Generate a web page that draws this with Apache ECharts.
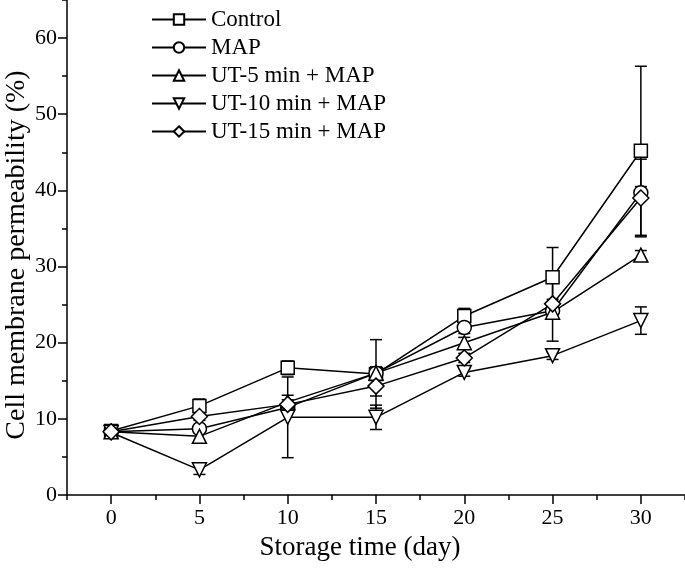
<!DOCTYPE html>
<html>
<head>
<meta charset="utf-8">
<script src="https://cdn.jsdelivr.net/npm/echarts@6/dist/echarts.min.js"></script>
<style>
  html, body { margin: 0; padding: 0; background: #fff; }
  #chart { width: 685px; height: 574px; }
</style>
</head>
<body>
<div id="chart"></div>
<script>
// storage days
var days = [0, 5, 10, 15, 20, 25, 30];

// means
var control = [8.4, 11.7, 16.7, 15.9, 23.5, 28.6, 45.2];
var map = [8.3, 8.7, 11.5, 16.0, 22.0, 24.2, 39.7];
var ut5 = [8.3, 7.7, 12.2, 16.0, 20.0, 24.0, 31.5];
var ut10 = [8.2, 3.3, 10.2, 10.2, 16.1, 18.3, 22.9];
var ut15 = [8.3, 10.3, 11.9, 14.3, 18.0, 25.1, 39.0];

// error (±) for each point
var controlErr = [0.3, 0.9, 0.9, 4.5, 1.0, 3.9, 11.1];
var mapErr = [0.3, 0.5, 0.6, 0.8, 0.8, 0.8, 0.8];
var ut5Err = [0.3, 0.9, 0.9, 0.8, 0.7, 3.8, 0.6];
var ut10Err = [0.3, 0.6, 5.3, 1.6, 0.5, 0.5, 1.8];
var ut15Err = [0.3, 0.5, 0.6, 1.3, 0.6, 0.6, 5.1];

// tick positions
var xMajor = [0, 5, 10, 15, 20, 25, 30];
var xMinor = [-2.5, 2.5, 7.5, 12.5, 17.5, 22.5, 27.5, 32.5];
var yMajor = [0, 10, 20, 30, 40, 50, 60];
var yMinor = [5, 15, 25, 35, 45, 55, 65];

var names = ['Control', 'MAP', 'UT-5 min + MAP', 'UT-10 min + MAP', 'UT-15 min + MAP'];
var symbols = ['rect', 'circle', 'triangle', 'path://M0,0 L10,0 L5,9 Z', 'diamond'];
var sizes = [13, 14, 14, 14, 16];

var font = 'Liberation Serif';

var chartDom = document.getElementById('chart');
var myChart = echarts.init(chartDom);

function renderErr(params, api) {
  var x = api.value(0);
  var lo = api.coord([x, api.value(1)]);
  var hi = api.coord([x, api.value(2)]);
  var w = 6;
  var st = { stroke: '#000', lineWidth: 1.5 };
  return {
    type: 'group',
    children: [
      { type: 'line', shape: { x1: lo[0], y1: lo[1], x2: hi[0], y2: hi[1] }, style: st },
      { type: 'line', shape: { x1: lo[0] - w, y1: lo[1], x2: lo[0] + w, y2: lo[1] }, style: st },
      { type: 'line', shape: { x1: hi[0] - w, y1: hi[1], x2: hi[0] + w, y2: hi[1] }, style: st }
    ]
  };
}

var means = [control, map, ut5, ut10, ut15];
var errs = [controlErr, mapErr, ut5Err, ut10Err, ut15Err];

var series = [];
means.forEach(function (m, i) {
  series.push({
    name: names[i] + ' err',
    type: 'custom',
    renderItem: renderErr,
    z: 1,
    data: days.map(function (d, j) { return [d, m[j] - errs[i][j], m[j] + errs[i][j]]; })
  });
});
means.forEach(function (m, i) {
  series.push({
    name: names[i],
    type: 'line',
    z: 3,
    symbol: symbols[i],
    symbolSize: sizes[i],
    showAllSymbol: true,
    lineStyle: { color: '#000', width: 1.5 },
    itemStyle: { color: '#fff', borderColor: '#000', borderWidth: 1.5 },
    data: days.map(function (d, j) { return [d, m[j]]; })
  });
});

var lineSt = { color: '#000', width: 1.5 };

var option = {
  animation: false,
  backgroundColor: '#fff',
  textStyle: { fontFamily: font, color: '#000' },
  grid: { left: 67, right: 0, top: 0, bottom: 79, containLabel: false, outerBoundsMode: 'none' },
  legend: {
    data: names,
    orient: 'vertical',
    left: 146,
    top: 3,
    itemWidth: 54,
    itemHeight: 13,
    itemGap: 5,
    textStyle: { fontFamily: font, fontSize: 23, color: '#000' }
  },
  xAxis: [{
    type: 'value',
    min: -2.5,
    max: 32.5,
    name: 'Storage time (day)',
    nameLocation: 'middle',
    nameGap: 39,
    nameMoveOverlap: false,
    nameTextStyle: { fontFamily: font, fontSize: 27, color: '#000', padding: [0, 32, 0, 0] },
    axisLine: { onZero: false, lineStyle: lineSt },
    axisTick: { length: 9, customValues: xMajor, lineStyle: lineSt },
    axisLabel: { fontFamily: font, fontSize: 22, color: '#000', margin: 12, customValues: xMajor },
    splitLine: { show: false }
  }, {
    type: 'value',
    position: 'bottom',
    min: -2.5,
    max: 32.5,
    axisLine: { show: false, onZero: false },
    axisTick: { length: 5, customValues: xMinor, lineStyle: lineSt },
    axisLabel: { show: false },
    splitLine: { show: false }
  }],
  yAxis: [{
    type: 'value',
    min: 0,
    max: 65,
    name: 'Cell membrane permeability (%)',
    nameLocation: 'middle',
    nameGap: 36,
    nameMoveOverlap: false,
    nameTextStyle: { fontFamily: font, fontSize: 28, color: '#000', padding: [0, 15, 0, 0] },
    axisLine: { show: true, onZero: false, lineStyle: lineSt },
    axisTick: { show: true, length: 9, customValues: yMajor, lineStyle: lineSt },
    axisLabel: { fontFamily: font, fontSize: 22, color: '#000', margin: 10, customValues: yMajor },
    splitLine: { show: false }
  }, {
    type: 'value',
    position: 'left',
    min: 0,
    max: 65,
    axisLine: { show: false, onZero: false },
    axisTick: { show: true, length: 5, customValues: yMinor, lineStyle: lineSt },
    axisLabel: { show: false },
    splitLine: { show: false }
  }],
  series: series
};

option && myChart.setOption(option);
</script>
</body>
</html>
